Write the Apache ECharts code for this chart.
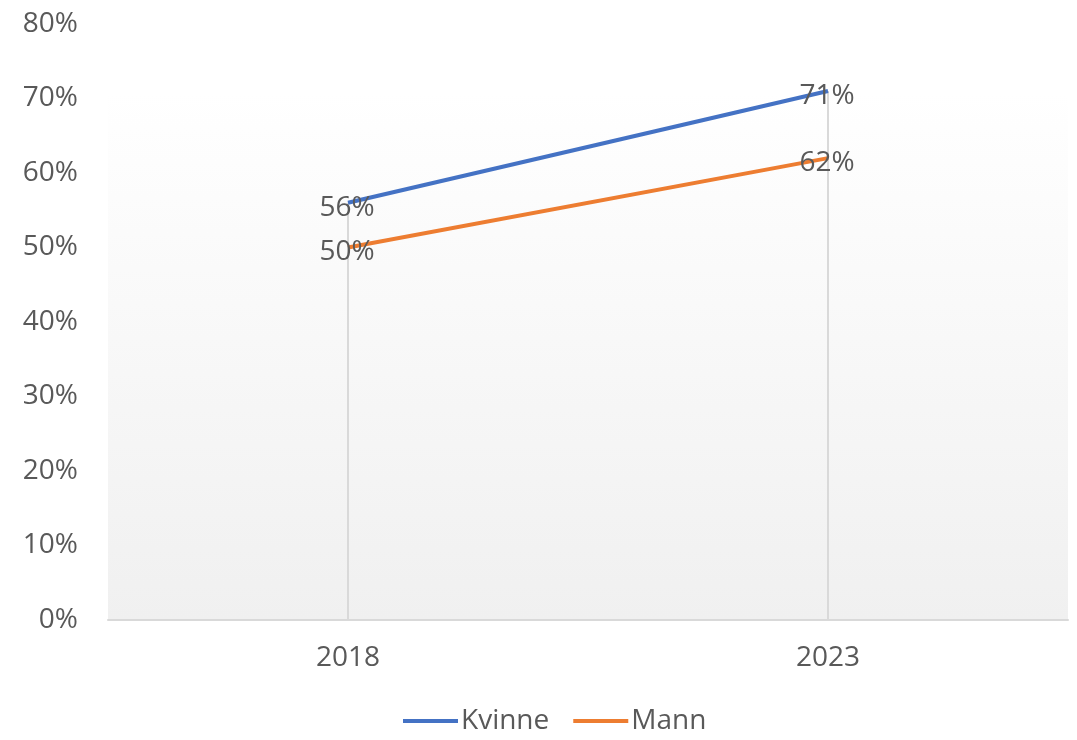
<!DOCTYPE html>
<html>
<head>
<meta charset="utf-8">
<script src="https://cdn.jsdelivr.net/npm/echarts@6/dist/echarts.min.js"></script>
<style>
  html, body { margin: 0; padding: 0; background: #fff; }
  #chart { width: 1077px; height: 740px; }
</style>
</head>
<body>
<div id="chart"></div>
<script>
const years = ['2018', '2023'];
const kvinne = [56, 71];
const mann = [50, 62];
const yTicks = [0, 10, 20, 30, 40, 50, 60, 70, 80];

// drop lines go from the highest point down to the axis
const dropTop = years.map((y, i) => Math.max(kvinne[i], mann[i]));

const font = 'Open Sans';
const grey = '#595959';

const pointLabel = {
  show: true,
  position: 'top',
  distance: 0,
  offset: [-1, 19],
  fontSize: 28,
  color: grey,
  formatter: p => p.value + '%'
};

let chart = echarts.init(document.getElementById('chart'));
chart.setOption({
  animation: false,
  textStyle: { fontFamily: font },
  grid: [
    { left: 108, right: 9, top: 24, bottom: 120 },
    {
      left: 108, right: 9, top: 92, bottom: 120, show: true, borderWidth: 0,
      backgroundColor: new echarts.graphic.LinearGradient(0, 0, 0, 1, [
        { offset: 0, color: '#ffffff' },
        { offset: 1, color: '#f0f0f0' }
      ])
    }
  ],
  legend: {
    data: ['Kvinne', 'Mann'],
    bottom: 0,
    left: 398,
    icon: 'rect',
    itemWidth: 55,
    itemHeight: 4,
    itemGap: 24,
    textStyle: { fontSize: 28, color: grey, fontFamily: font, padding: [0, 0, 0, -2] }
  },
  xAxis: [
    {
      type: 'category',
      data: years,
      axisLine: { lineStyle: { color: '#d9d9d9', width: 2 } },
      axisTick: { show: false },
      axisLabel: { fontSize: 28, color: grey, margin: 24 }
    },
    { type: 'category', data: years, gridIndex: 1, show: false }
  ],
  yAxis: [
    {
      type: 'value',
      min: 0,
      max: 80,
      interval: 10,
      axisLine: { show: false },
      axisTick: { show: false },
      splitLine: { show: false },
      axisLabel: {
        fontSize: 28,
        color: grey,
        margin: 30,
        formatter: v => yTicks.includes(v) ? v + '%' : ''
      }
    },
    { type: 'value', gridIndex: 1, show: false }
  ],
  series: [
    {
      name: 'drop',
      type: 'bar',
      data: dropTop,
      barWidth: 2,
      itemStyle: { color: '#d9d9d9' },
      silent: true,
      z: 1
    },
    {
      name: 'Kvinne',
      type: 'line',
      data: kvinne,
      symbol: 'circle',
      symbolSize: 0,
      showSymbol: true,
      lineStyle: { color: '#4472C4', width: 4 },
      itemStyle: { color: '#4472C4' },
      label: pointLabel,
      z: 3
    },
    {
      name: 'Mann',
      type: 'line',
      data: mann,
      symbol: 'circle',
      symbolSize: 0,
      showSymbol: true,
      lineStyle: { color: '#ED7D31', width: 4 },
      itemStyle: { color: '#ED7D31' },
      label: pointLabel,
      z: 3
    }
  ]
});
</script>
</body>
</html>
